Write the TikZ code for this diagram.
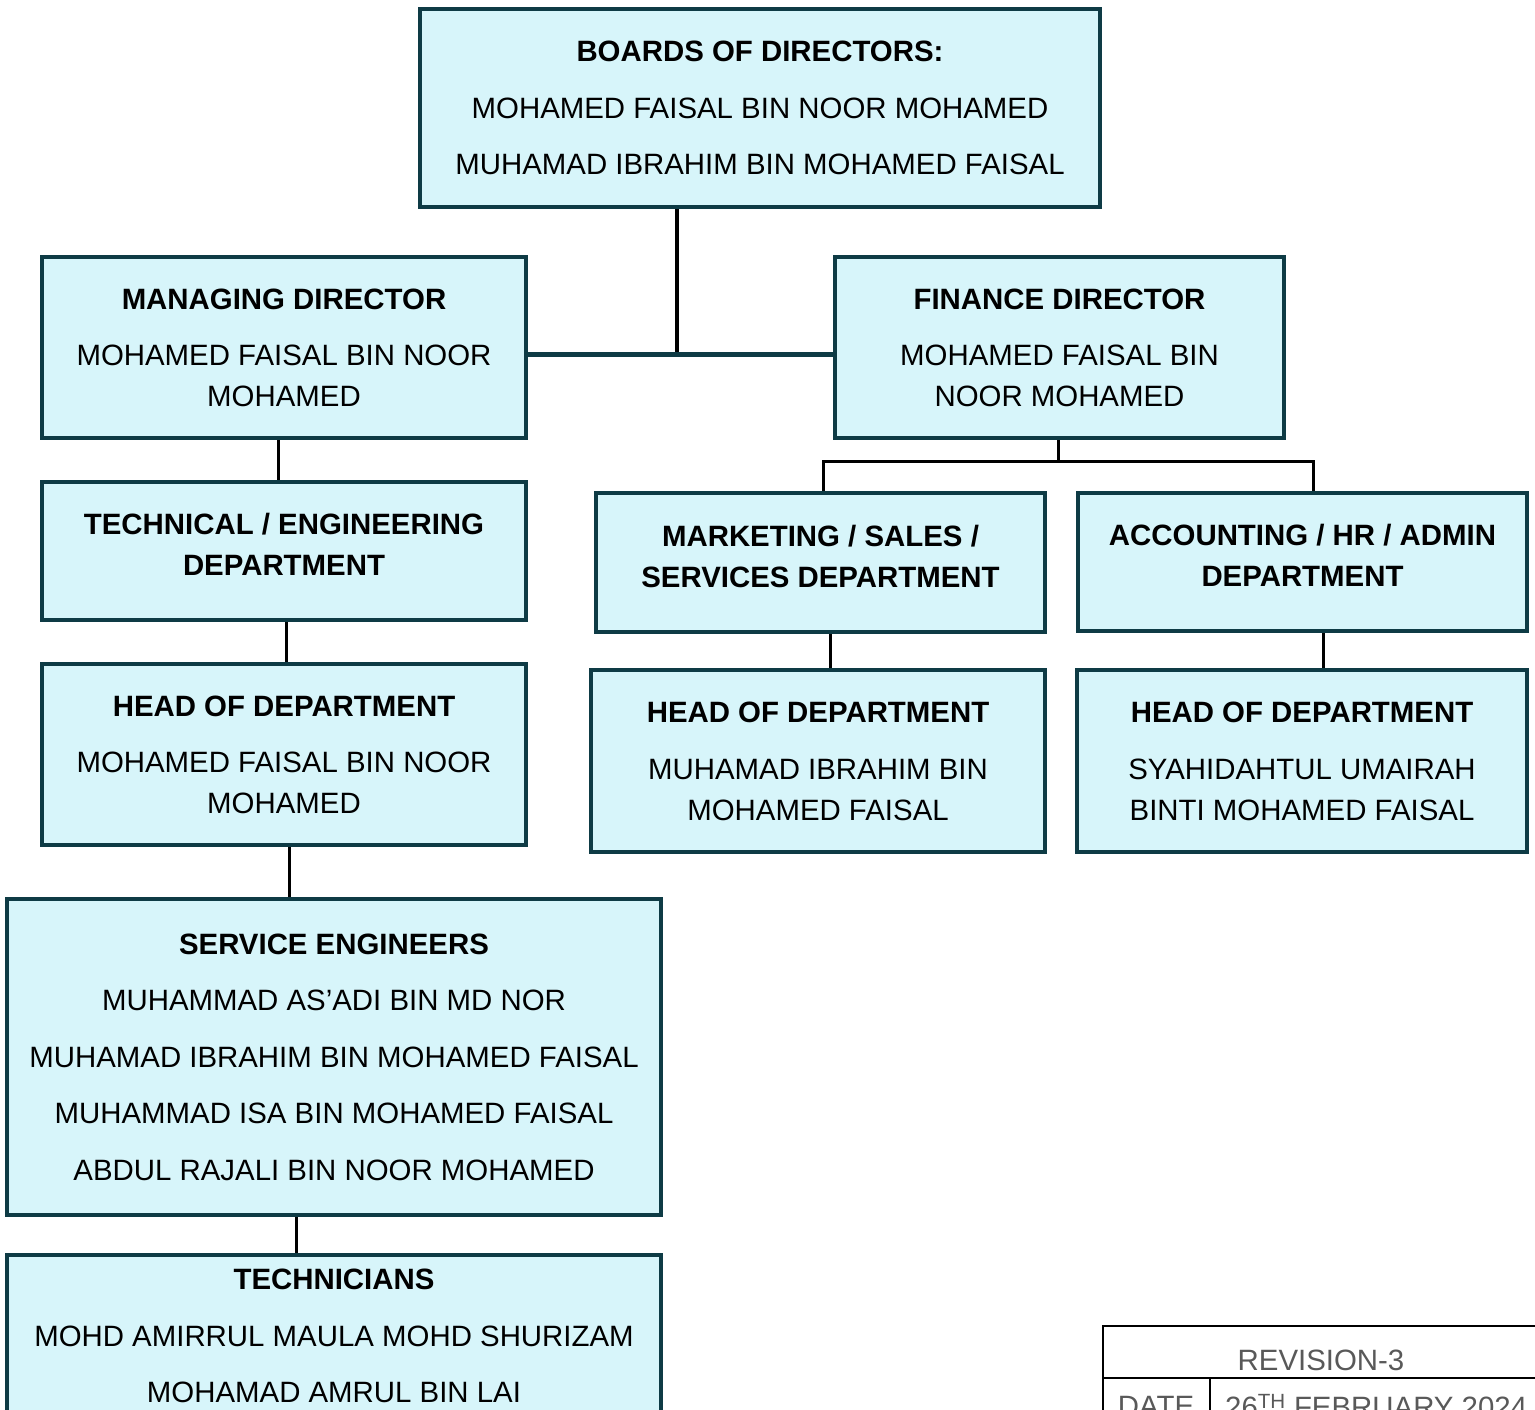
\documentclass[tikz,border=0pt]{standalone}
\usepackage{fontspec}
\setmainfont{Liberation Sans}
\definecolor{boxfill}{HTML}{D7F5FA}
\definecolor{boxline}{HTML}{0E3B45}
\definecolor{tabtext}{HTML}{595959}
\begin{document}
\begin{tikzpicture}[x=1pt,y=-1pt,
  orgbox/.style={draw=boxline, fill=boxfill, line width=4pt, align=center, inner sep=0pt,
    text depth=-4pt, font=\fontsize{29.4}{41}\selectfont},
  conn/.style={draw=black, line width=3pt},
  tabline/.style={draw=black, line width=1.6pt},
  tabtxt/.style={text=tabtext, inner sep=0pt, font=\fontsize{29.4}{35}\selectfont}]
\clip (0,0) rectangle (1535,1410);

% boxes
\node[orgbox, minimum width=680pt, minimum height=198pt] (board) at (760,108)
  {\textbf{BOARDS OF DIRECTORS:}\\[15.5pt]MOHAMED FAISAL BIN NOOR MOHAMED\\[15.5pt]MUHAMAD IBRAHIM BIN MOHAMED FAISAL};
\node[orgbox, minimum width=484pt, minimum height=181pt] (md) at (284,347.5)
  {\textbf{MANAGING DIRECTOR}\\[15.5pt]MOHAMED FAISAL BIN NOOR\\MOHAMED};
\node[orgbox, minimum width=449pt, minimum height=181pt] (fd) at (1059.5,347.5)
  {\textbf{FINANCE DIRECTOR}\\[15.5pt]MOHAMED FAISAL BIN\\NOOR MOHAMED};
\node[orgbox, minimum width=484pt, minimum height=138pt, text depth=13pt] (tech) at (284,551)
  {\textbf{TECHNICAL / ENGINEERING}\\\textbf{DEPARTMENT}};
\node[orgbox, minimum width=484pt, minimum height=181pt] (hodl) at (284,754.5)
  {\textbf{HEAD OF DEPARTMENT}\\[15.5pt]MOHAMED FAISAL BIN NOOR\\MOHAMED};
\node[orgbox, minimum width=654pt, minimum height=316pt] (se) at (334,1057)
  {\textbf{SERVICE ENGINEERS}\\[15.5pt]MUHAMMAD AS’ADI BIN MD NOR\\[15.5pt]MUHAMAD IBRAHIM BIN MOHAMED FAISAL\\[15.5pt]MUHAMMAD ISA BIN MOHAMED FAISAL\\[15.5pt]ABDUL RAJALI BIN NOOR MOHAMED};
\node[orgbox, minimum width=654pt, minimum height=162pt, text depth=-2pt] (techn) at (334,1336)
  {\textbf{TECHNICIANS}\\[15.5pt]MOHD AMIRRUL MAULA MOHD SHURIZAM\\[15.5pt]MOHAMAD AMRUL BIN LAI};
\node[orgbox, minimum width=449pt, minimum height=139pt, text depth=12pt] (mkt) at (820.5,562.5)
  {\textbf{MARKETING / SALES /}\\\textbf{SERVICES DEPARTMENT}};
\node[orgbox, minimum width=449pt, minimum height=138pt, text depth=13pt] (acc) at (1302.5,562)
  {\textbf{ACCOUNTING / HR / ADMIN}\\\textbf{DEPARTMENT}};
\node[orgbox, minimum width=454pt, minimum height=182pt] (hodm) at (818,761)
  {\textbf{HEAD OF DEPARTMENT}\\[15.5pt]MUHAMAD IBRAHIM BIN\\MOHAMED FAISAL};
\node[orgbox, minimum width=450pt, minimum height=182pt] (hodr) at (1302,761)
  {\textbf{HEAD OF DEPARTMENT}\\[15.5pt]SYAHIDAHTUL UMAIRAH\\BINTI MOHAMED FAISAL};

% connectors
\coordinate (hj) at (677,354);
\coordinate (fork) at (1058,461);
\draw[draw=black, line width=4.5pt] ([xshift=-83pt]board.south) -- ([xshift=-83pt]board.south |- hj);
\draw[draw=boxline, line width=5pt] (md.east |- hj) -- (fd.west |- hj);
\draw[conn] ([xshift=-6pt]md.south) -- ([xshift=-6pt]md.south |- tech.north);
\draw[conn] ([xshift=2pt]tech.south) -- ([xshift=2pt]tech.south |- hodl.north);
\draw[conn] ([xshift=5pt]hodl.south) -- ([xshift=5pt]hodl.south |- se.north);
\draw[conn] ([xshift=-38pt]se.south) -- ([xshift=-38pt]se.south |- techn.north);
\draw[conn] ([xshift=-1.5pt]fd.south) -- ([xshift=-1.5pt]fd.south |- fork);
\draw[conn, line join=miter] ([xshift=2.5pt]mkt.north) |- ([xshift=10.5pt]acc.north |- fork) -- ([xshift=10.5pt]acc.north);
\draw[conn] ([xshift=9.5pt]mkt.south) -- ([xshift=9.5pt]mkt.south |- hodm.north);
\draw[conn] ([xshift=20.5pt]acc.south) -- ([xshift=20.5pt]acc.south |- hodr.north);

% revision table
\draw[tabline] (1103,1440) -- (1103,1326) -- (1540,1326);
\draw[tabline] (1103,1378) -- (1540,1378);
\draw[tabline] (1210,1378) -- (1210,1440);
\node[tabtxt] (rev) at (1321,1360) {REVISION-3};
\node[tabtxt] (date) at (1156,1406) {DATE};
\node[tabtxt, anchor=west] (dateval) at (1225,1406) {26\textsuperscript{TH} FEBRUARY 2024};
\end{tikzpicture}
\end{document}
